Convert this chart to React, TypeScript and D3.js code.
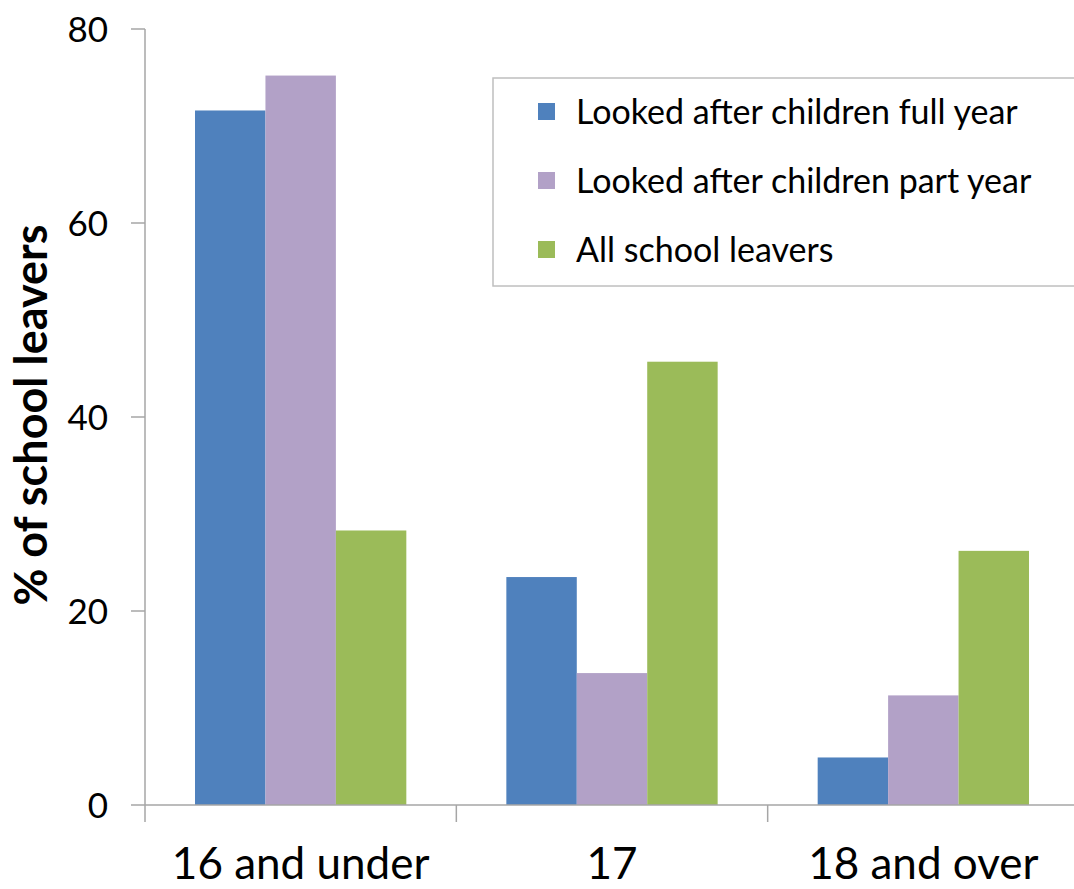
import React from "react";
import * as d3 from "d3";

const categories = ["16 and under", "17", "18 and over"];
const seriesNames = [
  "Looked after children full year",
  "Looked after children part year",
  "All school leavers",
];
const seriesColors = ["#4F81BD", "#B2A1C7", "#9BBB59"];
const fullYear = [71.6, 23.5, 4.9];
const partYear = [75.2, 13.6, 11.3];
const allLeavers = [28.3, 45.7, 26.2];
const yTicks = [0, 20, 40, 60, 80];

const W = 1074;
const H = 889;
const left = 145;
const right = 1079;
const top = 29;
const bottom = 805;
const FONT = "Lato, 'Open Sans', sans-serif";

export default function App() {
  const values = [fullYear, partYear, allLeavers];
  const x = d3.scaleBand<string>().domain(categories).range([left, right]).padding(0);
  const y = d3.scaleLinear().domain([0, 80]).range([bottom, top]);
  const inner = d3
    .scaleBand<number>()
    .domain([0, 1, 2])
    .range([0, x.bandwidth()])
    .paddingOuter(0.71)
    .paddingInner(0);

  return (
    <svg width={W} height={H} style={{ position: "absolute", left: 0, top: 0, background: "#fff" }}>
      <rect x={0} y={0} width={W} height={H} fill="#fff" />
      {categories.map((c, ci) =>
        values.map((vals, si) => (
          <rect
            key={c + si}
            x={(x(c) as number) + (inner(si) as number)}
            y={y(vals[ci])}
            width={inner.bandwidth()}
            height={bottom - y(vals[ci])}
            fill={seriesColors[si]}
          />
        ))
      )}
      <line x1={left} x2={left} y1={top} y2={bottom} stroke="#A6A6A6" strokeWidth={1.5} />
      {yTicks.map((t) => (
        <g key={t}>
          <line x1={left - 14} x2={left} y1={y(t)} y2={y(t)} stroke="#A6A6A6" strokeWidth={1.5} />
          <text
            x={108}
            y={y(t)}
            dy="0.36em"
            textAnchor="end"
            fontFamily={FONT}
            fontSize={35}
            fill="#000"
          >
            {t}
          </text>
        </g>
      ))}
      <line x1={left} x2={right} y1={bottom} y2={bottom} stroke="#A6A6A6" strokeWidth={1.5} />
      {categories.map((c) => (
        <g key={c}>
          <line
            x1={x(c) as number}
            x2={x(c) as number}
            y1={bottom}
            y2={bottom + 17}
            stroke="#A6A6A6"
            strokeWidth={1.5}
          />
          <text
            x={(x(c) as number) + x.bandwidth() / 2}
            y={879}
            textAnchor="middle"
            fontFamily={FONT}
            fontSize={44}
            fill="#000"
          >
            {c}
          </text>
        </g>
      ))}
      <line x1={right} x2={right} y1={bottom} y2={bottom + 17} stroke="#A6A6A6" strokeWidth={1.5} />
      <text
        transform={`translate(47,415) rotate(-90)`}
        textAnchor="middle"
        fontFamily={FONT}
        fontWeight="bold"
        fontSize={45}
        fill="#000"
      >
        % of school leavers
      </text>
      <rect x={493} y={78} width={590} height={208} fill="#fff" stroke="#BFBFBF" strokeWidth={1.5} />
      {seriesNames.map((n, i) => (
        <g key={n}>
          <rect x={538} y={103 + i * 69} width={17} height={17} fill={seriesColors[i]} />
          <text
            x={576}
            y={112 + i * 69}
            dy="0.36em"
            fontFamily={FONT}
            fontSize={34}
            fill="#000"
          >
            {n}
          </text>
        </g>
      ))}
    </svg>
  );
}
